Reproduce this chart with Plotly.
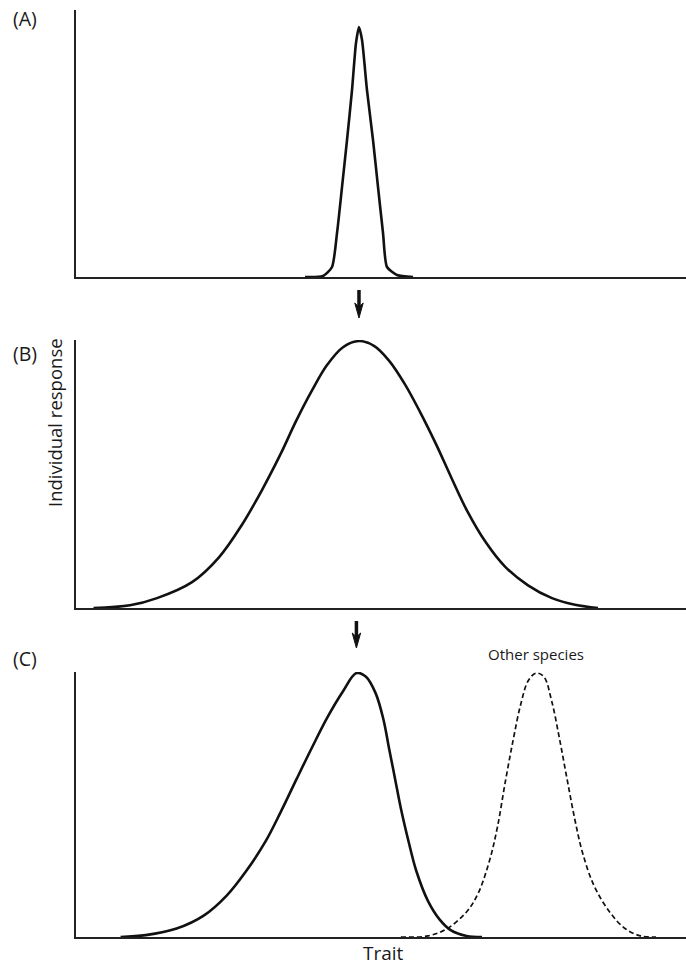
import plotly.graph_objects as go

# ---------------- data (trait on a 0-100 scale, response relative to peak = 1) ----------------
trait_a = [37.54, 40.49, 41.97, 42.79, 43.61, 44.43, 45.25, 45.90, 46.39, 46.89, 47.70,
           48.69, 49.51, 50.33, 50.98, 52.62, 55.25]
resp_a = [0.0, 0.004, 0.04, 0.176, 0.36, 0.548, 0.748, 0.936, 1.0, 0.948, 0.748,
          0.548, 0.36, 0.176, 0.04, 0.008, 0.0]

trait_b = [2.87, 8.85, 13.28, 19.02, 23.44, 27.21, 30.49, 33.61, 36.07, 38.69, 41.15, 43.77,
           46.39, 48.85, 51.31, 53.93, 56.39, 59.02, 61.48, 64.10, 67.21, 70.33, 74.10, 78.03,
           81.80, 85.57]
resp_b = [0.0, 0.01, 0.037, 0.097, 0.19, 0.312, 0.442, 0.58, 0.70, 0.815, 0.91, 0.977,
          1.0, 0.982, 0.927, 0.838, 0.735, 0.614, 0.491, 0.365, 0.245, 0.155, 0.085, 0.037,
          0.012, 0.0]

trait_c = [7.31, 11.43, 16.49, 20.93, 24.74, 27.90, 31.07, 33.61, 36.15, 38.69, 41.21, 43.75,
           45.97, 47.54, 49.13, 50.39, 51.34, 52.30, 53.25, 54.52, 55.79, 57.69, 59.59, 61.49,
           64.02, 66.56]
resp_c = [0.0, 0.007, 0.032, 0.081, 0.158, 0.25, 0.362, 0.476, 0.598, 0.718, 0.832, 0.93,
          1.0, 0.986, 0.923, 0.825, 0.712, 0.60, 0.488, 0.362, 0.25, 0.137, 0.067, 0.025,
          0.004, 0.0]

trait_other = [53.25, 57.69, 60.85, 64.02, 65.92, 67.82, 69.10, 70.36, 71.62, 72.90, 74.16,
               75.43, 76.70, 77.97, 79.23, 80.49, 81.77, 83.03, 84.93, 87.48, 90.00, 92.54, 95.08]
resp_other = [0.0, 0.004, 0.032, 0.095, 0.165, 0.292, 0.418, 0.586, 0.741, 0.881, 0.972,
              1.0, 0.986, 0.895, 0.755, 0.60, 0.446, 0.32, 0.194, 0.095, 0.032, 0.004, 0.0]

panel_labels = ["(A)", "(B)", "(C)"]
y_title = "Individual response"
x_title = "Trait"
other_label = "Other species"

# ---------------- figure ----------------
W, H = 686, 967
FONT = "Open Sans"
TXT = "#1a1a1a"
INK = "#111111"
PX_PER_UNIT = (W - 76) / 100.0

def py(px):
    return 1 - px / H

fig = go.Figure()
curve = dict(color=INK, width=2.6)
fig.add_trace(go.Scatter(x=trait_a, y=resp_a, mode="lines", line=dict(shape="spline", smoothing=0.6, **curve),
                         xaxis="x", yaxis="y", hoverinfo="skip"))
fig.add_trace(go.Scatter(x=trait_b, y=resp_b, mode="lines", line=dict(shape="spline", **curve),
                         xaxis="x2", yaxis="y2", hoverinfo="skip"))
fig.add_trace(go.Scatter(x=trait_c, y=resp_c, mode="lines", line=dict(shape="spline", **curve),
                         xaxis="x3", yaxis="y3", hoverinfo="skip"))
fig.add_trace(go.Scatter(x=trait_other, y=resp_other, mode="lines",
                         line=dict(shape="spline", color=INK, width=1.7, dash="5px,3px"),
                         xaxis="x3", yaxis="y3", hoverinfo="skip"))

ax_style = dict(showline=True, linecolor="#222222", linewidth=2, showticklabels=False,
                ticks="", showgrid=False, zeroline=False, fixedrange=True)
xdom = [76 / W, 1.0]

fig.update_layout(
    width=W, height=H, margin=dict(l=0, r=0, t=0, b=0),
    paper_bgcolor="white", plot_bgcolor="white", showlegend=False,
    xaxis=dict(domain=xdom, range=[0, 100], anchor="y", **ax_style),
    yaxis=dict(domain=[py(277), py(10)], range=[0, 1.068], anchor="x", **ax_style),
    xaxis2=dict(domain=xdom, range=[0, 100], anchor="y2", **ax_style),
    yaxis2=dict(domain=[py(608), py(340)], range=[0, 1.004], anchor="x2", **ax_style),
    xaxis3=dict(domain=xdom, range=[0, 100], anchor="y3", **ax_style),
    yaxis3=dict(domain=[py(937), py(672)], range=[0, 1.004], anchor="x3", **ax_style),
)

ann = []
for lab, ypx in zip(panel_labels, [18, 353, 658]):
    ann.append(dict(text=lab, x=11 / W, y=py(ypx), xref="paper", yref="paper",
                    xanchor="left", yanchor="middle", showarrow=False,
                    font=dict(family=FONT, size=19.5, color=TXT)))
ann.append(dict(text=y_title, x=54 / W, y=py(423), xref="paper", yref="paper", textangle=-90,
                xanchor="center", yanchor="middle", showarrow=False,
                font=dict(family=FONT, size=18.5, color=TXT)))
ann.append(dict(text=x_title, x=383 / W, y=py(953), xref="paper", yref="paper",
                xanchor="center", yanchor="middle", showarrow=False,
                font=dict(family=FONT, size=19, color=TXT)))
ann.append(dict(text=other_label, x=trait_other[resp_other.index(max(resp_other))], xref="x3",
                y=py(654), yref="paper", xanchor="center", yanchor="middle", showarrow=False,
                font=dict(family=FONT, size=15, color=TXT)))
fig.update_layout(annotations=ann)

# arrows pointing down at the peaks (narrow, notched heads)
peak_a = trait_a[resp_a.index(max(resp_a))]
peak_c = trait_c[resp_c.index(max(resp_c))]
shapes = []
hw = 4.2 / PX_PER_UNIT
for xv, xr, tail, tip in [(peak_a, "x2", 290, 318), (peak_c, "x3", 621, 648)]:
    shapes.append(dict(type="line", xref=xr, yref="paper", x0=xv, x1=xv, y0=py(tail), y1=py(tip - 10),
                       line=dict(color=INK, width=3.5)))
    path = (f"M {xv - hw} {py(tip - 15)} L {xv} {py(tip)} L {xv + hw} {py(tip - 15)} "
            f"L {xv} {py(tip - 11)} Z")
    shapes.append(dict(type="path", xref=xr, yref="paper", path=path,
                       fillcolor=INK, line=dict(color=INK, width=1)))
fig.update_layout(shapes=shapes)

fig.write_html("out.html", config={"displayModeBar": False, "staticPlot": True},
               post_script="document.body.style.margin='0px';document.body.style.overflow='hidden';")
